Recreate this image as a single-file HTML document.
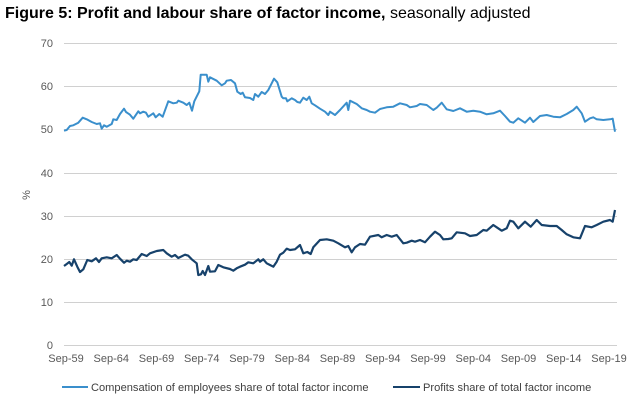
<!DOCTYPE html>
<html><head><meta charset="utf-8"><style>
body{margin:0;background:#fff;width:640px;height:405px;overflow:hidden;font-family:"Liberation Sans",sans-serif}
.t{position:absolute;left:5px;top:5px;font-size:16px;color:#000}
</style></head><body>
<div class="t"><b>Figure 5: Profit and labour share of factor income,</b> seasonally adjusted</div>
<svg width="640" height="405" style="position:absolute;left:0;top:0" font-family="Liberation Sans, sans-serif">
<g stroke="#d0d0d0" stroke-width="1">
<line x1="64" x2="617" y1="43.5" y2="43.5"/><line x1="64" x2="617" y1="86.5" y2="86.5"/>
<line x1="64" x2="617" y1="129.5" y2="129.5"/><line x1="64" x2="617" y1="173.5" y2="173.5"/>
<line x1="64" x2="617" y1="216.5" y2="216.5"/><line x1="64" x2="617" y1="259.5" y2="259.5"/>
<line x1="64" x2="617" y1="302.5" y2="302.5"/><line x1="64" x2="617" y1="345.5" y2="345.5"/>
</g>
<g font-size="11" fill="#595959" text-anchor="end">
<text x="53" y="47">70</text><text x="53" y="90">60</text><text x="53" y="133">50</text>
<text x="53" y="177">40</text><text x="53" y="220">30</text><text x="53" y="263">20</text>
<text x="53" y="306">10</text><text x="53" y="349">0</text>
</g>
<text x="0" y="0" font-size="11" fill="#595959" transform="translate(30,195) rotate(-90)" text-anchor="middle">%</text>
<g font-size="11" fill="#595959" text-anchor="middle" id="xl"></g>
<polyline id="comp" fill="none" stroke="#3a8fcc" stroke-width="2" stroke-linejoin="round"/>
<polyline id="prof" fill="none" stroke="#17426b" stroke-width="2.2" stroke-linejoin="round"/>
<line x1="62" x2="88" y1="387" y2="387" stroke="#3a8fcc" stroke-width="2"/>
<text x="91" y="391" font-size="11.1" fill="#404040">Compensation of employees share of total factor income</text>
<line x1="393" x2="420" y1="387" y2="387" stroke="#17426b" stroke-width="2"/>
<text x="423" y="391" font-size="11.1" fill="#404040">Profits share of total factor income</text>
</svg>
<script>
var labs=["Sep-59","Sep-64","Sep-69","Sep-74","Sep-79","Sep-84","Sep-89","Sep-94","Sep-99","Sep-04","Sep-09","Sep-14","Sep-19"];
var g=document.getElementById("xl"),s="";
for(var i=0;i<13;i++){s+='<text x="'+(66+i*45.25)+'" y="362">'+labs[i]+'</text>';}
g.innerHTML=s;
function pts(a,ox,oy){var r=[];for(var i=0;i<a.length;i+=2){r.push((ox+a[i]/3).toFixed(1)+","+(oy+a[i+1]/3).toFixed(1));}return r;}
var c1=[192,302,200,300,210,288,220,286,235,278,248,263,260,268,275,276,290,282,300,280,305,296,312,286,320,290,335,282,340,268,350,270,360,252,372,236,378,246,390,254,400,266,415,244,420,250,430,245,438,248,445,260,460,250,467,262,478,252,488,260,505,214,520,220,530,218,535,212,550,218,560,225,568,218,576,242,583,214,598,184,602,134,615,134,620,134,625,155,630,142,650,152,665,166,675,160,680,152,693,150,705,160,712,185,722,192,728,188,735,202,750,204,760,210,765,192,775,200,785,186,795,192,805,180,815,160,822,146,832,157,845,200,850,205,858,205,862,214,875,205,885,210,892,216,900,218,910,203,920,210,928,200,935,220,945,226,960,236];
var c2=[15,245,25,255,30,245,45,255,60,240,80,218,85,240,90,212,110,222,125,235,140,240,150,245,165,248,180,237,200,232,220,230,240,220,260,225,270,232,290,228,300,222,320,225,340,240,350,233,365,218,380,238,400,243,420,235,440,245,460,242,480,245,500,253,520,250,540,242,555,258,570,275,580,278,595,265,615,278,630,263,640,276,660,258,680,255,700,260,720,262,740,252,760,240,770,230,785,250,795,275,810,265,820,262,830,268,850,270,870,268,878,266,885,305];
var p1=[192,138,200,132,208,126,215,137,222,118,232,140,240,156,250,148,262,120,275,124,288,115,297,126,305,115,320,112,335,115,350,105,360,116,372,128,380,122,390,125,400,118,410,120,425,102,440,108,450,100,470,93,490,90,500,100,515,110,525,105,535,114,555,104,565,107,575,118,590,130,595,165,603,163,608,153,615,165,625,138,630,155,645,154,655,135,670,142,690,147,700,152,710,145,720,140,735,134,745,127,760,130,775,118,780,125,790,118,800,130,810,135,820,140,830,125,840,104,850,98,860,86,870,90,885,88,900,75,910,100,922,96,932,102,940,82,960,60];
var p2=[20,58,40,62,55,70,75,82,85,78,95,97,105,82,120,72,135,74,150,50,175,45,185,52,200,45,215,50,230,45,250,70,260,68,275,62,285,65,300,60,315,67,330,50,345,35,360,45,370,58,385,57,395,55,410,37,435,40,450,48,470,45,490,30,500,32,520,15,530,22,545,32,560,25,570,2,580,5,595,25,615,5,632,20,650,0,665,15,690,18,710,18,725,30,740,43,760,52,780,55,795,18,815,22,830,15,850,5,870,0,878,5,885,-30];
document.getElementById("comp").setAttribute("points",pts(c1,0,30).concat(pts(c2,320,30)).join(" "));
document.getElementById("prof").setAttribute("points",pts(p1,0,220).concat(pts(p2,320,220)).join(" "));
</script>
</body></html>
